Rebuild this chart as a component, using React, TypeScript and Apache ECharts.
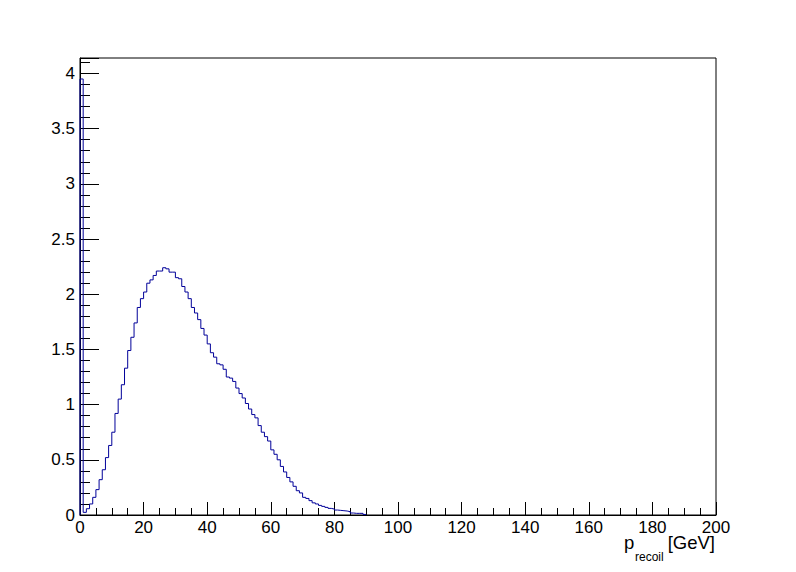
import React, { useEffect, useRef } from "react";
import * as echarts from "echarts";

// Histogram of p_recoil, bins of width 1 GeV starting at 0
const binWidth = 1;
const binValues: number[] = [
  3.95, 0.024, 0.057, 0.10, 0.16, 0.23, 0.32, 0.41, 0.52, 0.63, 0.75,
  0.92, 1.05, 1.18, 1.33, 1.49, 1.61, 1.74, 1.88, 1.96, 2.02,
  2.10, 2.13, 2.17, 2.21, 2.21, 2.24, 2.23, 2.20, 2.20, 2.15,
  2.14, 2.07, 2.02, 1.96, 1.88, 1.83, 1.77, 1.69, 1.63, 1.55,
  1.47, 1.43, 1.37, 1.36, 1.32, 1.25, 1.24, 1.21, 1.15, 1.10,
  1.06, 1.01, 0.96, 0.91, 0.88, 0.81, 0.75, 0.71, 0.67, 0.59,
  0.55, 0.50, 0.44, 0.39, 0.34, 0.30, 0.26, 0.22, 0.20, 0.16,
  0.15, 0.13, 0.11, 0.10, 0.087, 0.078, 0.069, 0.06, 0.054, 0.045,
  0.042, 0.039, 0.036, 0.03, 0.018, 0.015, 0.015, 0.015, 0.005,
];
const xMin = 0;
const xMax = 200;
const yMax = 4.14;

export default function App() {
  const ref = useRef<HTMLDivElement>(null);
  useEffect(() => {
    if (!ref.current) return;
    const chart = echarts.init(ref.current, undefined, { renderer: "svg" });
    const pts: number[][] = [[0, 0]];
    binValues.forEach((v, i) => pts.push([i * binWidth, v]));
    pts.push([binValues.length * binWidth, 0]);
    const font = "'Liberation Sans', Arial, Helvetica, sans-serif";
    chart.setOption({
      animation: false,
      backgroundColor: "#ffffff",
      grid: {
        left: 80,
        right: 80,
        top: 58,
        bottom: 57,
        show: true,
        borderColor: "#000",
        borderWidth: 1,
        backgroundColor: "transparent",
      },
      xAxis: {
        type: "value",
        min: xMin,
        max: xMax,
        interval: 20,
        axisLine: { show: true, onZero: false, lineStyle: { color: "#000", width: 1 } },
        axisTick: { show: true, inside: true, length: 13, lineStyle: { color: "#000" } },
        minorTick: { show: true, splitNumber: 4, length: 7, lineStyle: { color: "#000" } },
        splitLine: { show: false },
        axisLabel: { color: "#000", fontSize: 17, fontFamily: font, margin: 4 },
      },
      yAxis: {
        type: "value",
        min: 0,
        max: yMax,
        interval: 0.5,
        axisLine: { show: true, lineStyle: { color: "#000", width: 1 } },
        axisTick: { show: true, inside: true, length: 19, lineStyle: { color: "#000" } },
        minorTick: { show: true, splitNumber: 5, length: 10, lineStyle: { color: "#000" } },
        splitLine: { show: false },
        axisLabel: {
          color: "#000",
          fontSize: 17,
          fontFamily: font,
          margin: 5,
          showMaxLabel: false,
          formatter: (v: number) => (Math.abs(v * 2 - Math.round(v * 2)) < 1e-6 ? String(v) : ""),
        },
      },
      series: [
        {
          type: "line",
          step: "end",
          data: pts,
          symbol: "none",
          lineStyle: { color: "#000099", width: 1 },
          clip: true,
        },
      ],
      graphic: [
        {
          type: "text",
          x: 624,
          y: 542,
          style: { text: "p", fontSize: 18.5, fontFamily: font, fill: "#000", verticalAlign: "middle" },
        },
        {
          type: "text",
          x: 635,
          y: 557,
          style: { text: "recoil", fontSize: 12, fontFamily: font, fill: "#000", verticalAlign: "middle" },
        },
        {
          type: "text",
          x: 715,
          y: 542,
          style: { text: "[GeV]", fontSize: 18.5, fontFamily: font, fill: "#000", align: "right", verticalAlign: "middle" },
        },
      ],
    });
    return () => chart.dispose();
  }, []);
  return (
    <div
      ref={ref}
      style={{ position: "absolute", left: 0, top: 0, width: 796, height: 572 }}
    />
  );
}
